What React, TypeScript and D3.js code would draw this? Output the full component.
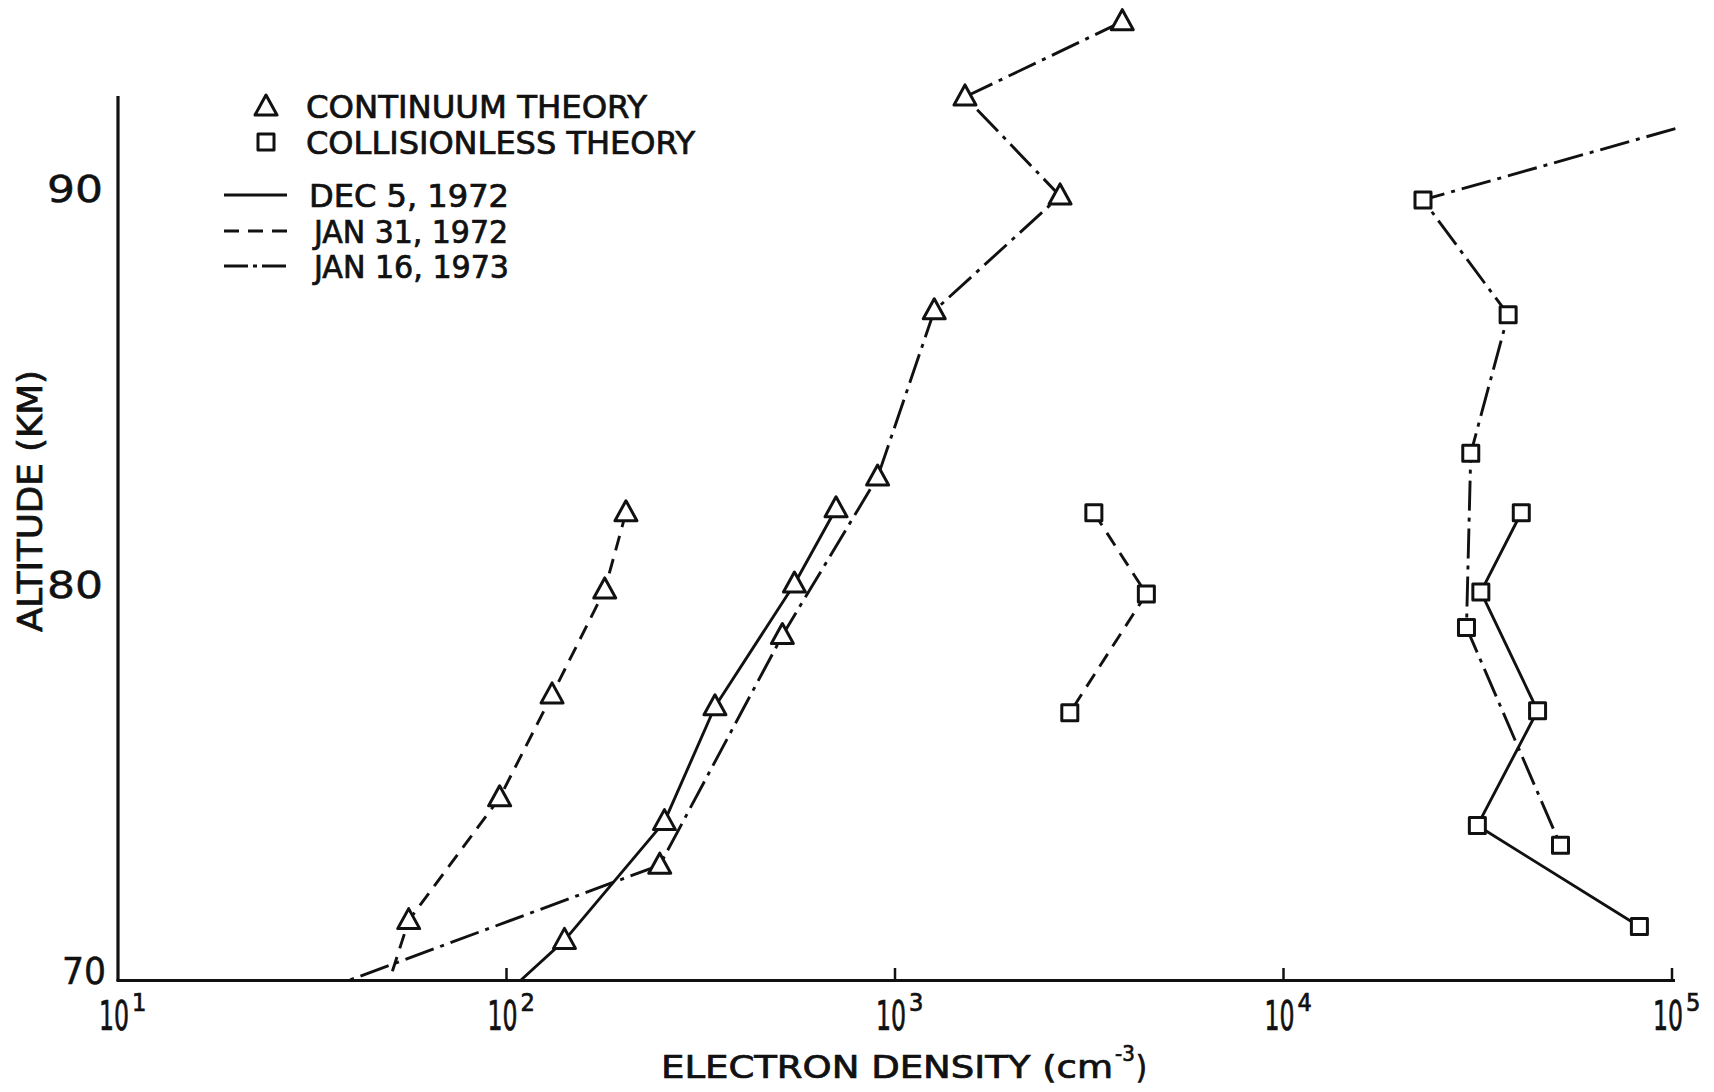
import React from "react";
import * as d3 from "d3";

// ---------- data ----------
const xTickValues = [10, 100, 1000, 10000, 100000];
const xTickExponents = ["1", "2", "3", "4", "5"];
const yTickValues = [70, 80, 90];

// Continuum theory (triangles)
const contDec5Density = [705, 551, 344, 255, 141, 109];
const contDec5Alt = [81.9, 80.0, 76.9, 74.0, 71.0, 70];
const contDec5Marker = [true, true, true, true, true, false];

const contJan31Density = [203, 179, 131, 96, 56, 50];
const contJan31Alt = [81.8, 79.85, 77.2, 74.6, 71.5, 70];
const contJan31Marker = [true, true, true, true, true, false];

const contJan16Density = [3846, 1514, 2660, 1262, 902, 513, 248, 39.5];
const contJan16Alt = [94.2, 92.3, 89.8, 86.9, 82.7, 78.7, 72.9, 70];
const contJan16Marker = [true, true, true, true, true, true, true, false];

// Collisionless theory (squares)
const collDec5Density = [40930, 32210, 45080, 31550, 82430];
const collDec5Alt = [81.8, 79.8, 76.8, 73.9, 71.35];

const collJan31Density = [3250, 4436, 2818];
const collJan31Alt = [81.8, 79.75, 76.75];

const collJan16Density = [102000, 22860, 37860, 30340, 29580, 51640];
const collJan16Alt = [91.5, 89.7, 86.8, 83.3, 78.9, 73.4];
const collJan16Marker = [false, true, true, true, true, true];

const legendSymbols = ["CONTINUUM THEORY", "COLLISIONLESS THEORY"];
const legendDates = ["DEC 5, 1972", "JAN 31, 1972", "JAN 16, 1973"];

// ---------- styles ----------
const W = 1714;
const H = 1092;
const INK = "#111";
const FONT = "'Liberation Sans Narrow', 'DejaVu Sans Condensed', 'Liberation Sans', sans-serif";
const NUM_FONT = "'DejaVu Sans', 'Liberation Sans', sans-serif";
const TXT_STROKE = 0.7;
const DASH: Record<string, string | undefined> = {
  solid: undefined,
  dashed: "15 9",
  dashdot: "30 7 4 7",
};

type Pt = { d: number; a: number; m: boolean };
const zip = (d: number[], a: number[], m?: boolean[]): Pt[] =>
  d.map((v, i) => ({ d: v, a: a[i], m: m ? m[i] : true }));

const series = [
  { pts: zip(contDec5Density, contDec5Alt, contDec5Marker), style: "solid", sym: "tri" },
  { pts: zip(contJan31Density, contJan31Alt, contJan31Marker), style: "dashed", sym: "tri" },
  { pts: zip(contJan16Density, contJan16Alt, contJan16Marker), style: "dashdot", sym: "tri" },
  { pts: zip(collDec5Density, collDec5Alt), style: "solid", sym: "sq" },
  { pts: zip(collJan31Density, collJan31Alt), style: "dashed", sym: "sq" },
  { pts: zip(collJan16Density, collJan16Alt, collJan16Marker), style: "dashdot", sym: "sq" },
];

const x = d3.scaleLog().domain([10, 100000]).range([118, 1672]);
const y = d3.scaleLinear().domain([70, 90]).range([980, 188]);

const triPath = "M0,-12L11,8L-11,8Z";
const sqPath = "M-8,-8H8V8H-8Z";

function Marker({ sym, cx, cy }: { sym: string; cx: number; cy: number }) {
  return (
    <path
      d={sym === "tri" ? triPath : sqPath}
      transform={`translate(${cx},${cy})`}
      fill="#fff"
      stroke={INK}
      strokeWidth={3}
      strokeLinejoin="round"
    />
  );
}

export default function App() {
  const line = d3
    .line<Pt>()
    .x((p) => x(p.d))
    .y((p) => y(p.a));

  return (
    <svg width={W} height={H} style={{ display: "block", position: "absolute", left: 0, top: 0, background: "#fff" }}>
      <rect x={0} y={0} width={W} height={H} fill="#fff" />
      {/* axes */}
      <line x1={118} y1={96} x2={118} y2={981} stroke={INK} strokeWidth={3.2} />
      <line x1={116.5} y1={980.5} x2={1675} y2={980.5} stroke={INK} strokeWidth={3.2} />
      {xTickValues.slice(1).map((t) => (
        <line key={t} x1={x(t)} x2={x(t)} y1={980} y2={968} stroke={INK} strokeWidth={2.5} />
      ))}

      {/* x tick labels */}
      {xTickValues.map((t, i) => (
        <text
          key={t}
          x={x(t) - 19}
          y={1030}
          fontFamily={FONT}
          fontSize={40}
          fill={INK}
          stroke={INK}
          strokeWidth={TXT_STROKE}
        >
          <tspan textLength={30} lengthAdjust="spacingAndGlyphs">10</tspan>
          <tspan dx={3} dy={-19} fontSize={25}>
            {xTickExponents[i]}
          </tspan>
        </text>
      ))}

      {/* y tick labels */}
      {yTickValues.map((t) => (
        <text
          key={t}
          x={t === 70 ? 106 : 103}
          y={t === 70 ? 984 : y(t) + 14}
          fontSize={38}
          fontFamily={NUM_FONT}
          textAnchor="end"
          fill={INK}
          stroke={INK}
          strokeWidth={0.5}
          textLength={t === 70 ? 44 : 56}
          lengthAdjust="spacingAndGlyphs"
        >
          {t}
        </text>
      ))}

      {/* axis titles */}
      <g fontFamily={FONT} fill={INK} stroke={INK} strokeWidth={TXT_STROKE}>
        <text x={661} y={1078} fontSize={32}>
          <tspan textLength={452} lengthAdjust="spacingAndGlyphs">ELECTRON DENSITY (cm</tspan>
          <tspan dx={2} dy={-17} fontSize={22}>-3</tspan>
          <tspan dx={1} dy={17}>)</tspan>
        </text>
        <text
          transform="translate(42,501) rotate(-90)"
          fontSize={33}
          textAnchor="middle"
          textLength={262}
          lengthAdjust="spacingAndGlyphs"
        >
          ALTITUDE (KM)
        </text>
      </g>

      {/* series */}
      {series.map((s, i) => (
        <g key={i}>
          <path
            d={line(s.pts) || ""}
            fill="none"
            stroke={INK}
            strokeWidth={2.9}
            strokeDasharray={DASH[s.style]}
            strokeLinejoin="round"
          />
          {s.pts
            .filter((p) => p.m)
            .map((p, j) => (
              <Marker key={j} sym={s.sym} cx={x(p.d)} cy={y(p.a)} />
            ))}
        </g>
      ))}

      {/* legend */}
      <g fontFamily={FONT} fill={INK} fontSize={32}>
        <Marker sym="tri" cx={266} cy={107} />
        <text x={306} y={118} textLength={341} lengthAdjust="spacingAndGlyphs" stroke={INK} strokeWidth={TXT_STROKE}>
          {legendSymbols[0]}
        </text>
        <Marker sym="sq" cx={266} cy={142} />
        <text x={306} y={154} textLength={389} lengthAdjust="spacingAndGlyphs" stroke={INK} strokeWidth={TXT_STROKE}>
          {legendSymbols[1]}
        </text>
        {legendDates.map((lbl, i) => {
          const ly = [195, 231, 266][i];
          const style = ["solid", "dashed", "dashdot"][i];
          return (
            <g key={lbl}>
              <line x1={224} x2={287} y1={ly} y2={ly} stroke={INK} strokeWidth={2.8} strokeDasharray={style === "dashdot" ? "24 5 4 5" : DASH[style]} />
              <text x={[309, 314, 314][i]} y={ly + 12} textLength={[200, 194, 195][i]} lengthAdjust="spacingAndGlyphs" stroke={INK} strokeWidth={TXT_STROKE}>
                {lbl}
              </text>
            </g>
          );
        })}
      </g>
    </svg>
  );
}
